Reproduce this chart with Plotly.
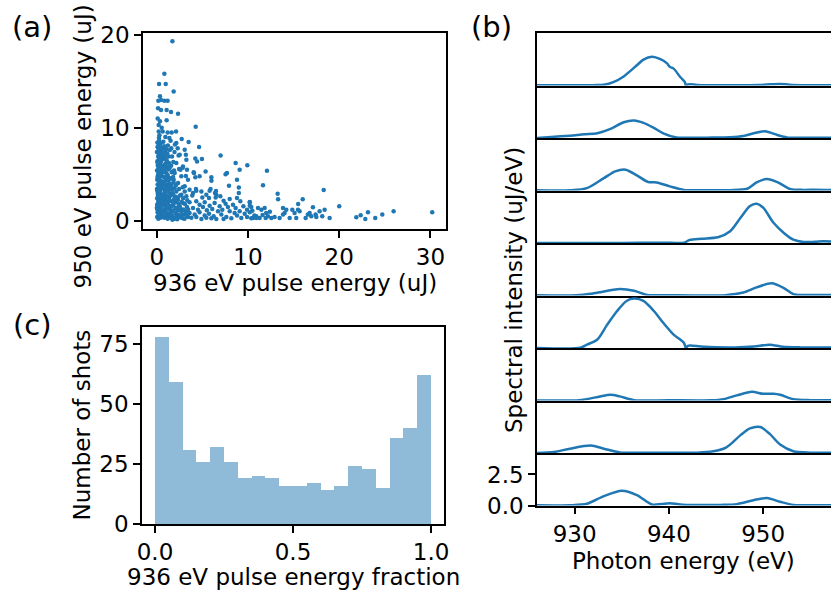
import plotly.graph_objects as go

FONT = "DejaVu Sans"
BLUE = "#1f77b4"
W, H = 831, 595

# ---------------- (a) scatter: pulse energies of the two colours (uJ) ----------------
e936 = [
    1.72, 0.84, 0.26, 0.99, 1.86, 0.36, 0.47, 0.18, 0.84, 1.20,
    0.15, 0.47, 1.09, 1.57, 2.34, 0.11, 0.36, 1.09, 0.22, 0.22,
    0.66, 1.20, 1.64, 2.12, 4.27, 0.95, 1.39, 2.74, 0.30, 0.55,
    3.50, 4.64, 4.23, 4.96, 4.42, 7.00, 8.65, 9.93, 9.09, 7.70,
    7.55, 5.36, 4.09, 3.32, 2.45, 4.70, 4.23, 5.99, 6.00, 8.80,
    7.92, 9.00, 4.34, 5.80, 6.39, 4.90, 3.98, 5.44, 6.53, 5.00,
    5.73, 6.46, 6.97, 7.33, 8.00, 8.80, 9.00, 9.16, 3.60, 4.34,
    4.70, 5.26, 5.80, 6.35, 6.90, 7.55, 7.80, 8.36, 8.65, 9.50,
    9.90, 3.98, 4.53, 5.07, 5.50, 6.09, 6.72, 7.19, 8.00, 8.54,
    9.09, 9.64, 3.60, 4.16, 4.70, 5.26, 5.73, 6.24, 6.53, 7.08,
    7.63, 8.18, 8.80, 9.27, 9.90, 3.80, 4.34, 4.90, 5.44, 5.99,
    7.33, 3.07, 2.52, 3.25, 2.15, 2.88, 1.97, 2.70, 3.43, 2.34,
    3.07, 3.60, 2.15, 2.70, 3.25, 2.34, 2.88, 3.32, 2.15, 2.70,
    3.18, 2.34, 2.88, 3.43, 2.08, 2.52, 3.07, 1.86, 2.60, 2.15,
    2.25, 2.45, 2.65, 2.85, 3.05, 3.30, 2.35, 2.60, 2.95, 3.20,
    2.40, 2.75, 3.10, 3.45, 2.30, 2.55, 2.90, 3.35, 2.45, 2.85,
    3.20, 2.40, 2.30, 2.85, 4.05, 3.20, 3.90, 5.90, 6.50, 4.30,
    12.08, 11.65, 13.25, 13.30, 18.30, 16.00, 15.50, 20.00, 10.20, 10.20,
    10.48, 11.10, 11.47, 11.83, 12.00, 10.92, 11.28, 10.55, 11.94, 12.19,
    12.56, 12.92, 13.47, 13.84, 14.20, 14.02, 13.84, 14.57, 14.86, 15.11,
    15.29, 15.48, 15.66, 16.32, 16.57, 16.76, 16.94, 17.12, 17.41, 17.49,
    17.85, 18.14, 18.40, 18.95, 21.87, 22.35, 22.86, 23.15, 23.95, 24.72,
    25.96, 30.19, 10.36, 10.20, 10.70, 10.36, 10.90, 10.20, 11.60, 12.40,
    0.05, 0.20, 0.40, 0.10, 0.30, 0.50, 0.02, 0.25, 0.45, 0.15,
    0.35, 0.55, 0.05, 0.28, 0.48, 0.12, 0.38, 0.58, 0.03, 0.22,
    0.42, 0.10, 0.32, 0.52, 0.06, 0.27, 0.47, 0.14, 0.36, 0.56,
    0.04, 0.24, 0.44, 0.12, 0.34, 0.54, 0.07, 0.26, 0.46, 0.16,
    0.37, 0.57, 0.03, 0.21, 0.41, 0.11, 0.31, 0.51, 0.08, 0.28,
    0.18, 0.38, 0.58, 0.08, 0.48, 0.18, 0.58, 0.20, 0.50, 0.30,
    0.09, 0.40, 0.20, 0.52, 0.30, 0.10, 0.40, 0.22, 0.50, 0.14,
    0.45, 0.25, 0.05, 0.33, 0.15, 0.44, 0.07, 0.27, 0.53, 0.19,
    0.65, 0.85, 1.05, 1.25, 1.45, 0.70, 0.90, 1.10, 1.30, 1.50,
    0.62, 0.82, 1.02, 1.22, 1.42, 0.75, 0.95, 1.15, 1.35, 0.68,
    0.88, 1.08, 1.28, 1.48, 0.72, 0.92, 1.12, 1.32, 0.64, 0.84,
    1.04, 1.24, 1.44, 0.78, 0.98, 1.18, 1.38, 0.66, 0.86, 1.06,
    1.26, 0.74, 0.94, 1.14, 1.34, 0.69, 0.89, 1.09, 1.29, 0.77,
    0.97, 1.17, 0.63, 0.83, 1.03, 1.23, 0.73, 1.43, 1.40, 1.46,
    0.80, 1.20, 1.00, 0.70, 1.40, 0.90, 1.20, 0.95, 1.10, 0.80,
    1.55, 1.75, 1.95, 1.60, 1.85, 2.10, 1.58, 1.80, 2.05, 1.65,
    1.90, 2.15, 1.55, 1.78, 2.02, 1.70, 1.95, 1.60, 1.85, 2.10,
    1.55, 1.80, 1.65, 1.90, 1.58, 1.82, 1.68, 1.95, 1.60, 2.00,
    1.52, 1.72, 2.18, 1.88, 1.62,
]
e950 = [
    19.3, 15.8, 14.7, 14.7, 13.9, 13.4, 13.0, 12.9, 12.9, 12.9,
    12.1, 11.9, 11.9, 11.7, 11.5, 11.0, 10.7, 10.8, 10.3, 9.6,
    9.6, 9.5, 9.5, 9.6, 10.1, 9.0, 8.9, 8.8, 9.2, 10.0,
    8.46, 7.92, 6.70, 6.63, 6.38, 7.00, 6.20, 5.95, 5.48, 5.13,
    5.00, 5.30, 5.13, 5.48, 5.56, 4.77, 4.66, 4.66, 4.30, 4.40,
    3.76, 3.58, 3.23, 3.23, 2.97, 3.15, 2.97, 2.80, 2.80, 2.50,
    2.44, 2.50, 2.62, 2.15, 2.33, 2.44, 2.97, 2.08, 1.97, 2.08,
    1.72, 1.97, 1.61, 1.90, 1.54, 1.83, 1.47, 1.72, 1.36, 1.54,
    1.18, 1.36, 1.18, 1.47, 1.11, 1.25, 1.00, 1.18, 1.00, 0.82,
    1.00, 0.75, 0.82, 0.65, 0.90, 0.54, 0.75, 0.47, 0.18, 0.65,
    0.39, 0.25, 0.54, 0.29, 0.39, 0.32, 0.39, 0.18, 0.32, 0.25,
    0.18, 7.63, 7.10, 6.56, 6.20, 5.84, 5.13, 4.77, 4.40, 4.05,
    3.69, 3.33, 3.15, 2.80, 2.62, 2.26, 1.90, 1.47, 1.36, 1.00,
    0.65, 0.47, 0.25, 0.39, 0.82, 1.54, 3.15, 4.40, 5.48, 8.35,
    0.15, 0.60, 0.35, 0.70, 0.20, 0.55, 1.10, 1.30, 1.20, 0.95,
    1.80, 2.00, 1.80, 1.20, 2.50, 2.70, 2.40, 2.20, 3.40, 3.60,
    7.10, 7.00, 7.80, 5.70, 5.20, 4.80, 2.70, 3.40, 3.20, 3.40,
    5.38, 3.80, 2.90, 2.30, 3.30, 2.30, 1.80, 1.55, 2.00, 1.60,
    1.07, 1.36, 1.18, 1.36, 0.82, 0.47, 0.29, 0.29, 0.29, 0.47,
    0.29, 0.40, 0.29, 1.36, 1.18, 0.82, 0.65, 0.29, 1.18, 0.82,
    0.29, 1.18, 1.00, 0.29, 0.65, 0.82, 0.47, 1.43, 0.65, 0.40,
    1.00, 0.47, 1.18, 0.29, 0.36, 0.57, 0.18, 0.90, 0.29, 0.65,
    1.00, 0.90, 1.47, 0.90, 0.54, 0.25, 0.29, 1.97, 0.60, 0.95,
    0.4, 0.6, 0.3, 0.9, 1.1, 0.8, 1.4, 1.6, 1.3, 1.9,
    2.1, 1.8, 2.4, 2.6, 2.3, 2.9, 3.1, 2.8, 3.4, 3.6,
    3.3, 3.9, 4.1, 3.8, 4.4, 4.6, 4.3, 4.9, 5.1, 4.8,
    5.4, 5.6, 5.3, 5.9, 6.1, 5.8, 6.4, 6.6, 6.3, 6.9,
    7.1, 6.8, 7.4, 7.6, 7.3, 7.9, 8.1, 7.8, 8.4, 8.6,
    0.2, 0.5, 0.4, 1.2, 1.6, 2.2, 2.2, 3.0, 3.5, 3.8,
    4.7, 4.9, 5.2, 5.5, 5.8, 6.2, 6.7, 7.2, 7.6, 8.0,
    8.3, 8.9, 1.7, 0.7, 2.7, 2.7, 3.2, 4.3, 4.1, 5.5,
    0.5, 0.3, 0.6, 0.4, 0.7, 1.0, 1.2, 0.9, 1.3, 1.1,
    1.6, 1.8, 1.5, 1.9, 1.6, 2.2, 2.4, 2.1, 2.5, 2.8,
    3.0, 2.7, 3.1, 2.9, 3.5, 3.3, 3.6, 3.4, 4.0, 4.2,
    3.9, 4.3, 4.0, 4.7, 4.5, 4.8, 4.6, 5.2, 5.4, 5.1,
    5.5, 5.9, 6.1, 5.8, 6.2, 6.6, 6.8, 6.5, 6.9, 7.3,
    7.5, 7.2, 7.8, 8.0, 7.7, 8.1, 8.5, 7.6, 5.6, 3.7,
    0.8, 0.2, 1.9, 2.5, 2.2, 3.7, 4.9, 5.7, 6.3, 7.0,
    0.3, 0.5, 0.2, 0.9, 1.1, 0.8, 1.5, 1.7, 1.4, 2.1,
    2.3, 2.0, 2.7, 2.9, 2.6, 3.3, 3.5, 3.9, 4.1, 3.8,
    4.5, 4.7, 5.2, 5.4, 5.9, 6.3, 6.9, 7.4, 7.8, 8.2,
    8.6, 0.1, 0.45, 1.9, 3.6,
]

# ---------------- (c) histogram of 936 eV energy fraction ----------------
fraction_bin_edges = [0.00, 0.05, 0.10, 0.15, 0.20, 0.25, 0.30, 0.35, 0.40, 0.45, 0.50,
                      0.55, 0.60, 0.65, 0.70, 0.75, 0.80, 0.85, 0.90, 0.95, 1.00]
shot_counts = [78, 59, 31, 26, 32, 26, 19, 20, 19, 16, 16, 17, 14, 16, 24, 23, 15, 36, 40, 62]

# ---------------- (b) single-shot spectra (photon energy eV, intensity uJ/eV) ----------------
spec1_E = [926.0, 929.0, 932.0, 933.1, 934.1, 935.2, 936.6, 937.3, 938.2, 939.1, 939.8, 940.1, 940.5,
           941.2, 941.7, 941.8, 942.0, 942.3, 943.0, 946.0, 949.5, 950.8, 951.8, 952.8, 954.5, 957.2]
spec1_I = [0.02, 0.02, 0.03, 0.06, 0.27, 0.73, 1.63, 2.09, 2.32, 2.12, 1.78, 1.50, 1.36,
           0.68, 0.27, 0.0, 0.08, 0.10, 0.04, 0.03, 0.05, 0.10, 0.13, 0.07, 0.03, 0.02]
spec2_E = [926.0, 927.5, 929.5, 931.0, 932.4, 933.8, 935.2, 936.3, 937.3, 938.4, 939.4, 940.8, 942.0,
           944.0, 946.5, 947.9, 949.0, 950.2, 951.5, 952.5, 954.0, 957.2]
spec2_I = [0.0, 0.08, 0.19, 0.30, 0.38, 0.73, 1.27, 1.41, 1.22, 0.81, 0.38, 0.05, 0.02,
           0.03, 0.06, 0.16, 0.38, 0.54, 0.24, 0.05, 0.02, 0.02]
spec3_E = [926.0, 929.5, 931.3, 933.1, 934.3, 935.4, 936.6, 937.8, 938.7, 940.1, 941.6, 943.5, 946.5,
           948.3, 949.3, 950.4, 951.5, 952.9, 954.3, 955.5, 957.2]
spec3_I = [0.02, 0.02, 0.19, 1.00, 1.54, 1.68, 1.22, 0.68, 0.65, 0.33, 0.05, 0.03, 0.03,
           0.14, 0.65, 0.92, 0.68, 0.11, 0.05, 0.06, 0.04]
spec4_E = [926.0, 935.0, 939.5, 941.6, 942.2, 943.5, 945.2, 946.5, 947.6, 948.6, 949.3, 950.0, 951.1,
           952.2, 953.2, 954.3, 955.5, 956.4, 957.2]
spec4_I = [0.01, 0.01, 0.03, 0.02, 0.25, 0.35, 0.46, 0.95, 2.03, 2.98, 3.17, 2.85, 1.63,
           0.81, 0.27, 0.08, 0.10, 0.14, 0.12]
spec5_E = [926.0, 930.2, 931.7, 933.1, 934.8, 936.3, 937.7, 940.0, 946.0, 947.9, 949.3, 950.9, 952.2,
           953.2, 954.3, 957.2]
spec5_I = [0.02, 0.02, 0.14, 0.33, 0.52, 0.38, 0.05, 0.02, 0.03, 0.24, 0.65, 0.98, 0.60,
           0.11, 0.04, 0.04]
spec6_E = [926.0, 930.6, 931.3, 932.4, 933.4, 934.5, 935.5, 936.3, 937.3, 938.4, 939.4, 940.5, 941.6,
           941.8, 942.0, 942.3, 943.7, 947.0, 949.0, 950.7, 952.1, 954.0, 957.2]
spec6_I = [0.01, 0.02, 0.27, 0.68, 1.82, 2.98, 3.79, 3.98, 3.79, 2.98, 2.03, 1.08, 0.41,
           0.0, 0.18, 0.20, 0.10, 0.05, 0.12, 0.27, 0.10, 0.05, 0.05]
spec7_E = [926.0, 930.2, 931.3, 932.7, 933.8, 934.8, 936.3, 940.0, 944.5, 945.8, 947.2, 948.8, 950.0,
           951.1, 951.8, 953.2, 955.0, 957.2]
spec7_I = [0.01, 0.01, 0.11, 0.33, 0.46, 0.33, 0.03, 0.02, 0.02, 0.11, 0.41, 0.70, 0.54,
           0.54, 0.46, 0.11, 0.03, 0.03]
spec8_E = [926.0, 927.8, 929.5, 931.7, 933.1, 934.8, 937.0, 943.0, 944.7, 946.1, 947.6, 948.6, 949.7,
           950.7, 951.8, 953.2, 955.0, 957.2]
spec8_I = [0.0, 0.08, 0.35, 0.60, 0.35, 0.05, 0.03, 0.03, 0.14, 0.46, 1.44, 1.98, 2.09,
           1.54, 0.68, 0.14, 0.03, 0.03]
spec9_E = [926.0, 929.5, 931.3, 933.1, 935.0, 936.6, 938.2, 939.2, 940.1, 941.0, 941.9, 945.5, 947.2,
           949.0, 950.4, 951.8, 953.2, 955.0, 957.2]
spec9_I = [0.02, 0.02, 0.14, 0.76, 1.19, 0.84, 0.08, 0.12, 0.19, 0.10, 0.05, 0.05, 0.11,
           0.43, 0.60, 0.30, 0.05, 0.03, 0.03]

spectra = [(spec1_E, spec1_I), (spec2_E, spec2_I), (spec3_E, spec3_I),
           (spec4_E, spec4_I), (spec5_E, spec5_I), (spec6_E, spec6_I),
           (spec7_E, spec7_I), (spec8_E, spec8_I), (spec9_E, spec9_I)]

# ---------------- figure ----------------
def px_x(p):
    return p / W

def px_y(p):
    return 1 - p / H

tickfont = dict(family=FONT, size=23, color="black")
axis_common = dict(showline=True, linecolor="black", linewidth=1.5, showgrid=False,
                   zeroline=False, tickcolor="black", tickwidth=1.5, ticklen=7,
                   tickfont=tickfont, automargin=False)

fig = go.Figure()

fig.add_trace(go.Scatter(x=e936, y=e950, mode="markers",
                         marker=dict(size=4.5, color=BLUE, line=dict(width=0)),
                         xaxis="x", yaxis="y", showlegend=False))

bin_centers = [(a + b) / 2 for a, b in zip(fraction_bin_edges[:-1], fraction_bin_edges[1:])]
bin_widths = [b - a for a, b in zip(fraction_bin_edges[:-1], fraction_bin_edges[1:])]
fig.add_trace(go.Bar(x=bin_centers, y=shot_counts, width=bin_widths,
                     marker=dict(color="rgba(31,119,180,0.5)", line=dict(width=0)),
                     xaxis="x2", yaxis="y2", showlegend=False))

n_spec = len(spectra)
b_top, b_h = 33.0, 52.5
layout_axes = {}
for i, (E, I) in enumerate(spectra):
    k = i + 3
    fig.add_trace(go.Scatter(x=E, y=I, mode="lines",
                             line=dict(color=BLUE, width=2.5, shape="spline", smoothing=0.8),
                             xaxis=f"x{k}", yaxis=f"y{k}", showlegend=False))
    top = b_top + b_h * i
    bot = top + b_h
    last = (i == n_spec - 1)
    xa = dict(axis_common, domain=[px_x(537), 1.0], range=[926.0, 957.2], anchor=f"y{k}",
              mirror=(i == 0))
    ya = dict(axis_common, domain=[px_y(bot), px_y(top)], range=[0, 4.23], anchor=f"x{k}",
              mirror=False)
    if last:
        xa.update(ticks="outside", tickvals=[930, 940, 950], showticklabels=True)
        ya.update(ticks="outside", tickvals=[0, 2.5], ticktext=["0.0", "2.5"], showticklabels=True)
    else:
        xa.update(ticks="", showticklabels=False)
        ya.update(ticks="", showticklabels=False)
    if k > 3:
        xa["matches"] = "x3"
    layout_axes[f"xaxis{k}"] = xa
    layout_axes[f"yaxis{k}"] = ya

fig.update_layout(
    width=W, height=H,
    margin=dict(l=0, r=0, t=0, b=0, pad=0, autoexpand=False),
    paper_bgcolor="white", plot_bgcolor="white",
    font=dict(family=FONT, size=23, color="black"),
    showlegend=False,
    bargap=0,
    xaxis=dict(axis_common, domain=[px_x(143), px_x(446)], range=[-1.5, 31.7],
               tickvals=[0, 10, 20, 30], ticks="outside", mirror=True, anchor="y"),
    yaxis=dict(axis_common, domain=[px_y(229), px_y(33)], range=[-0.9, 20.2],
               tickvals=[0, 10, 20], ticks="outside", mirror=True, anchor="x"),
    xaxis2=dict(axis_common, domain=[px_x(142), px_x(444)], range=[-0.047, 1.047],
                tickvals=[0, 0.5, 1.0], ticktext=["0.0", "0.5", "1.0"], ticks="outside",
                mirror=True, anchor="y2"),
    yaxis2=dict(axis_common, domain=[px_y(524), px_y(327)], range=[0, 82],
                tickvals=[0, 25, 50, 75], ticks="outside", mirror=True, anchor="x2"),
    **layout_axes,
)

def note(text, x, y, size=23, angle=0):
    fig.add_annotation(text=text, x=px_x(x), y=px_y(y), xref="paper", yref="paper",
                       showarrow=False, textangle=angle, xanchor="center", yanchor="middle",
                       font=dict(family=FONT, size=size, color="black"))

note("(a)", 32, 27, size=29)
note("(b)", 491, 27, size=29)
note("(c)", 32, 325, size=29)
note("936 eV pulse energy (uJ)", 294.5, 283)
note("950 eV pulse energy (uJ)", 82, 146.5, angle=-90)
note("Number of shots", 81, 425.5, angle=-90)
note("936 eV pulse energy fraction", 293, 577)
note("Spectral intensity (uJ/eV)", 514, 290, angle=-90)
note("Photon energy (eV)", 683, 561)

fig.write_html("out.html")
